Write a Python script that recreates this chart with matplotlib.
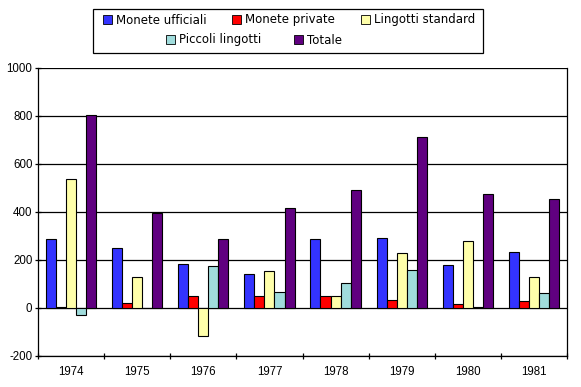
import matplotlib
matplotlib.use('Agg')
import matplotlib.pyplot as plt
import matplotlib.patches as mpatches
import numpy as np

plt.rcParams['axes.unicode_minus'] = False

####   data
anni = ['1974', '1975', '1976', '1977', '1978', '1979', '1980', '1981']
monete_ufficiali = [286, 249, 182, 140, 286, 290, 178, 232]
monete_private = [5, 20, 49, 49, 49, 33, 15, 28]
lingotti_standard = [536, 128, -117, 154, 49, 228, 278, 128]
piccoli_lingotti = [-30, 0, 174, 65, 103, 157, 3, 61]
totale = [803, 397, 286, 417, 490, 711, 474, 453]

serie = ['Monete ufficiali', 'Monete private', 'Lingotti standard',
         'Piccoli lingotti', 'Totale']
colori = ['#3333ff', '#ff0000', '#ffffaa', '#a0dcdc', '#600080']
valori = [monete_ufficiali, monete_private, lingotti_standard,
          piccoli_lingotti, totale]

####   figure
fig = plt.figure(figsize=(5.81, 3.87), dpi=100)
ax = fig.add_axes([38/581, 1-356/387, (567-38)/581, (356-68)/387])

x = np.arange(len(anni))
w = 0.152
for i, (nome, col, val) in enumerate(zip(serie, colori, valori)):
    ax.bar(x + (i-2)*w, val, w, color=col, edgecolor='black',
           linewidth=0.8, label=nome, zorder=3)

ax.set_xlim(-0.5, len(anni)-0.5)
ax.set_ylim(-200, 1000)
ax.set_yticks(range(-200, 1001, 200))
ax.yaxis.grid(True, color='black', linewidth=0.9, zorder=1)
ax.set_xticks(x)
ax.set_xticklabels(anni)
ax.set_xticks(np.arange(-0.5, len(anni), 1), minor=True)
ax.tick_params(axis='x', which='major', length=0, pad=7, labelsize=8.3)
ax.tick_params(axis='x', which='minor', length=4, direction='inout', width=0.9)
ax.tick_params(axis='y', length=4, direction='inout', width=0.9,
               labelsize=8.3, pad=2)
for lab in ax.get_xticklabels() + ax.get_yticklabels():
    lab.set_fontfamily('Liberation Sans')
ax.spines['top'].set_visible(False)
for s in ['left', 'right', 'bottom']:
    ax.spines[s].set_linewidth(0.9)

####   legend, Excel style: 3 items on top row, 2 centred below
handles = [mpatches.Patch(facecolor=c, edgecolor='black', linewidth=0.6,
                          label=n) for c, n in zip(colori, serie)]
kw = dict(frameon=False, fontsize=8.5, handlelength=0.75, handleheight=0.75,
          handletextpad=0.35, borderpad=0, borderaxespad=0, loc='center')
leg1 = fig.legend(handles=handles[:3], ncol=3, columnspacing=2.2,
                  bbox_to_anchor=(289/581, 1-20/387), **kw)
leg2 = fig.legend(handles=handles[3:], ncol=2, columnspacing=2.8,
                  bbox_to_anchor=(254/581, 1-40/387), **kw)
fig.patches.append(mpatches.Rectangle((93/581, 1-53/387), (483-93)/581,
                                      44/387, transform=fig.transFigure,
                                      fill=False, edgecolor='black',
                                      linewidth=0.9))

fig.savefig('out.png', dpi=100)
